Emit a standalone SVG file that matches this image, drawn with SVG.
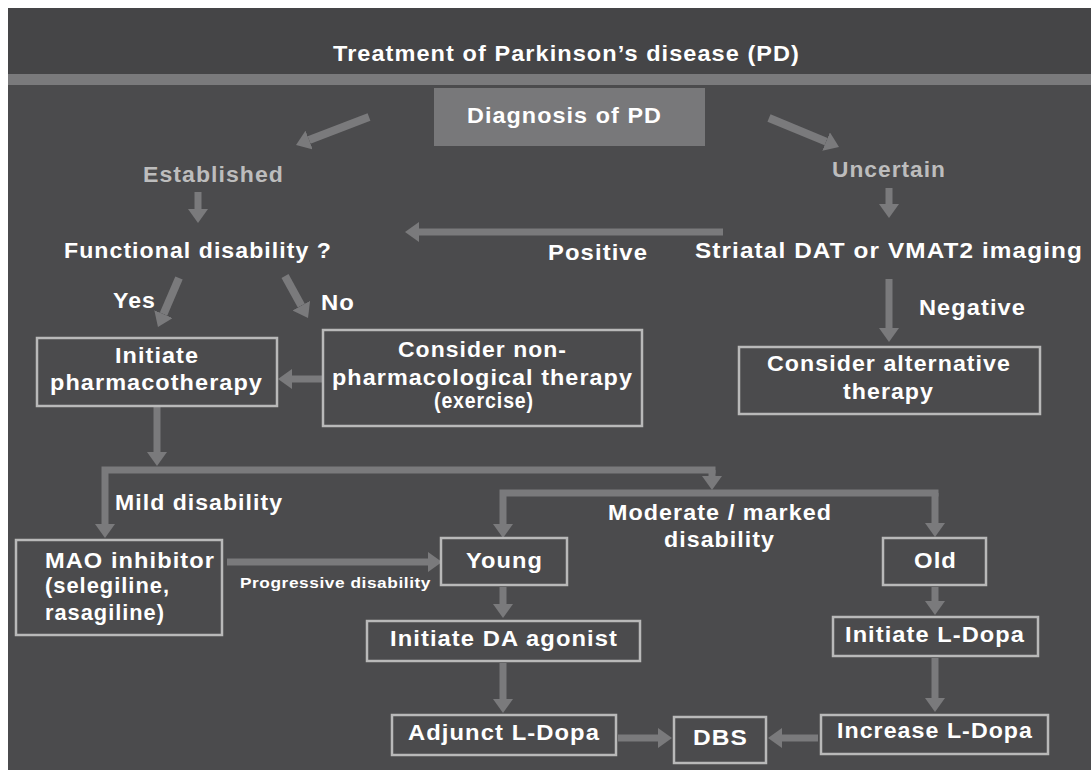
<svg xmlns="http://www.w3.org/2000/svg" width="1091" height="772" viewBox="0 0 1091 772">
<style>
text{font-family:"Liberation Sans",Arial,sans-serif;font-weight:bold;fill:#ffffff;font-size:22px;letter-spacing:1px}
.t{font-size:22px}
.lbl{fill:#bdbdbd}
.sm{font-size:15px;letter-spacing:0.5px}
.box{fill:none;stroke:#b9b9b9;stroke-width:2.5}
.c{fill:none;stroke:#7a7a7c;stroke-width:7;marker-end:url(#ah)}
.cd{fill:none;stroke:#7a7a7c;stroke-width:8;marker-end:url(#ah)}
</style>
<defs>
<marker id="ah" viewBox="0 0 14 20" refX="0" refY="10" markerWidth="14" markerHeight="20" markerUnits="userSpaceOnUse" orient="auto">
<path d="M0,0 L14,10 L0,20 Z" fill="#7a7a7c"/>
</marker>
</defs>
<rect x="0" y="0" width="1091" height="772" fill="#ffffff"/>
<rect x="8" y="8" width="1083" height="762" fill="#4b4b4d"/>
<rect x="8" y="8" width="1083" height="66" fill="#454547"/>
<rect x="8" y="74" width="1083" height="11" fill="#7a7a7c"/>
<g id="title"><text class="t" x="333" y="61" textLength="467" lengthAdjust="spacingAndGlyphs">Treatment of Parkinson’s disease (PD)</text></g>

<g id="connectors">
<line class="cd" x1="369" y1="117" x2="309.1" y2="140"/>
<line class="cd" x1="769" y1="118" x2="826.1" y2="141.6"/>
<line class="c" x1="198" y1="192" x2="198" y2="209"/>
<line class="c" x1="889" y1="188" x2="889" y2="204"/>
<line class="c" x1="723" y1="232" x2="419" y2="232"/>
<line class="cd" x1="179" y1="278" x2="163.5" y2="314.1"/>
<line class="cd" x1="285" y1="276" x2="301.3" y2="305.7"/>
<line class="c" x1="889" y1="279" x2="889" y2="328"/>
<line class="c" x1="322" y1="379" x2="292" y2="379"/>
<line class="c" x1="157" y1="407" x2="157" y2="452"/>
<path class="c" d="M715.5,470 H105 V524"/>
<path class="c" d="M712,470 V476"/>
<path class="c" d="M938.5,493 H503 V524"/>
<path class="c" d="M935,493 V523"/>
<line class="c" x1="227" y1="562" x2="428" y2="562"/>
<line class="c" x1="503" y1="587" x2="503" y2="604"/>
<line class="c" x1="935" y1="587" x2="935" y2="601"/>
<line class="c" x1="503" y1="663" x2="503" y2="699"/>
<line class="c" x1="935" y1="658" x2="935" y2="698"/>
<line class="c" x1="618" y1="738" x2="658" y2="738"/>
<line class="c" x1="818" y1="738" x2="782" y2="738"/>
</g>

<g id="diagnosis"><rect x="434" y="88" width="271" height="58" fill="#78787a"/>
<text class="t" x="467" y="123" textLength="195" lengthAdjust="spacingAndGlyphs">Diagnosis of PD</text></g>
<g id="established"><text class="lbl" x="143" y="182" textLength="141" lengthAdjust="spacingAndGlyphs">Established</text></g>
<g id="uncertain"><text class="lbl" x="832" y="177" textLength="114" lengthAdjust="spacingAndGlyphs">Uncertain</text></g>
<g id="functional"><text x="64" y="258" textLength="268" lengthAdjust="spacingAndGlyphs">Functional disability ?</text></g>
<g id="striatal"><text x="695" y="258" textLength="388" lengthAdjust="spacingAndGlyphs">Striatal DAT or VMAT2 imaging</text></g>
<g id="labels">
<text x="548" y="260" textLength="100" lengthAdjust="spacingAndGlyphs">Positive</text>
<text x="113" y="308" textLength="43" lengthAdjust="spacingAndGlyphs">Yes</text>
<text x="321" y="310" textLength="34" lengthAdjust="spacingAndGlyphs">No</text>
<text x="919" y="315" textLength="107" lengthAdjust="spacingAndGlyphs">Negative</text>
<text x="115" y="510" textLength="168" lengthAdjust="spacingAndGlyphs">Mild disability</text>
<text class="sm" x="240" y="588" textLength="191" lengthAdjust="spacingAndGlyphs">Progressive disability</text>
<text x="608" y="520" textLength="224" lengthAdjust="spacingAndGlyphs">Moderate / marked</text>
<text x="664" y="547" textLength="111" lengthAdjust="spacingAndGlyphs">disability</text>
</g>
<g id="pharmacotherapy"><rect class="box" x="37" y="338" width="240" height="68"/>
<text x="115" y="363" textLength="84" lengthAdjust="spacingAndGlyphs">Initiate</text>
<text x="50" y="390" textLength="213" lengthAdjust="spacingAndGlyphs">pharmacotherapy</text></g>
<g id="nonpharm"><rect class="box" x="323" y="330" width="319" height="96"/>
<text x="398" y="357" textLength="169" lengthAdjust="spacingAndGlyphs">Consider non-</text>
<text x="332" y="385" textLength="301" lengthAdjust="spacingAndGlyphs">pharmacological therapy</text>
<text x="434" y="408" textLength="100" lengthAdjust="spacingAndGlyphs">(exercise)</text></g>
<g id="alternative"><rect class="box" x="739" y="347" width="301" height="67"/>
<text x="767" y="371" textLength="244" lengthAdjust="spacingAndGlyphs">Consider alternative</text>
<text x="843" y="399" textLength="91" lengthAdjust="spacingAndGlyphs">therapy</text></g>
<g id="mao"><rect class="box" x="16" y="540" width="206" height="95"/>
<text x="45" y="568" textLength="170" lengthAdjust="spacingAndGlyphs">MAO inhibitor</text>
<text x="45" y="593" textLength="125" lengthAdjust="spacingAndGlyphs">(selegiline,</text>
<text x="45" y="620" textLength="120" lengthAdjust="spacingAndGlyphs">rasagiline)</text></g>
<g id="young"><rect class="box" x="441" y="538" width="126" height="47"/>
<text x="466" y="568" textLength="77" lengthAdjust="spacingAndGlyphs">Young</text></g>
<g id="old"><rect class="box" x="883" y="538" width="103" height="47"/>
<text x="914" y="568" textLength="43" lengthAdjust="spacingAndGlyphs">Old</text></g>
<g id="da-agonist"><rect class="box" x="367" y="621" width="273" height="40"/>
<text x="390" y="646" textLength="228" lengthAdjust="spacingAndGlyphs">Initiate DA agonist</text></g>
<g id="init-ldopa"><rect class="box" x="833" y="617" width="205" height="39"/>
<text x="845" y="642" textLength="180" lengthAdjust="spacingAndGlyphs">Initiate L-Dopa</text></g>
<g id="adjunct"><rect class="box" x="392" y="715" width="224" height="40"/>
<text x="408" y="740" textLength="192" lengthAdjust="spacingAndGlyphs">Adjunct L-Dopa</text></g>
<g id="increase"><rect class="box" x="821" y="715" width="227" height="39"/>
<text x="837" y="738" textLength="196" lengthAdjust="spacingAndGlyphs">Increase L-Dopa</text></g>
<g id="dbs"><rect class="box" x="674" y="717" width="92" height="46"/>
<text x="693" y="745" textLength="55" lengthAdjust="spacingAndGlyphs">DBS</text></g>
</svg>
